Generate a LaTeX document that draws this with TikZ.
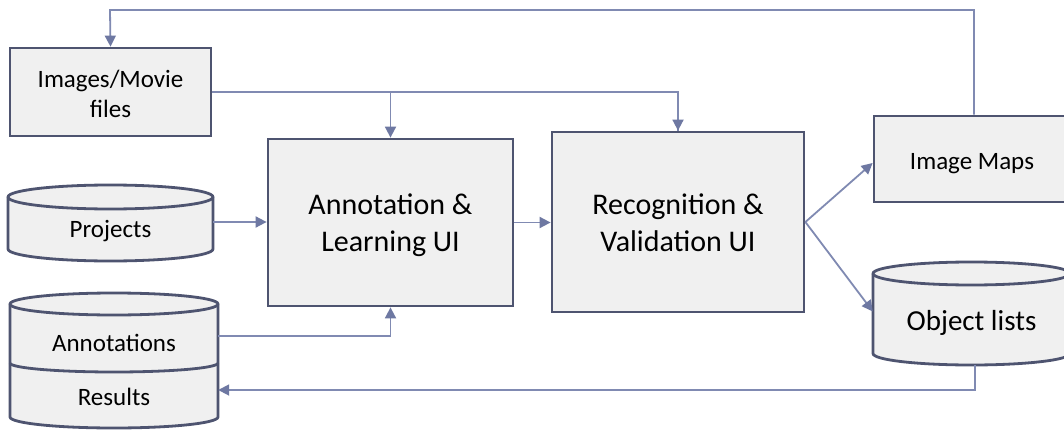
\documentclass[tikz,border=0pt]{standalone}
\usepackage{fontspec}
\setmainfont{Carlito}
\usetikzlibrary{arrows.meta,calc}
\definecolor{bordc}{RGB}{78,84,112}
\definecolor{connc}{RGB}{128,138,178}
\definecolor{tipc}{RGB}{110,120,162}
\definecolor{fillc}{RGB}{240,240,240}
\tikzset{
  boxnode/.style={draw=bordc, line width=2.8pt, fill=fillc, align=center, inner sep=0pt},
  txt/.style={align=center, inner sep=0pt, text=black},
  cylbody/.style={draw=bordc, line width=2.8pt, fill=fillc},
  conn/.style={draw=connc, line width=1.8pt},
  arr/.style={conn, -{Triangle[length=11pt,width=11pt,color=tipc]}},
  smallfont/.style={font=\fontsize{25}{30}\selectfont},
  bigfont/.style={font=\fontsize{30}{37}\selectfont},
}
\begin{document}
\begin{tikzpicture}[x=1pt,y=1pt]
\clip (0,0) rectangle (1064,429);
\fill[white] (0,0) rectangle (1064,429);

% Images/Movie files
\node[boxnode, minimum width=201pt, minimum height=88pt] (img) at (110.5,337) {};
\node[txt, smallfont] at (110.5,335) {Images/Movie\\files};

% Projects cylinder
\draw[cylbody] (8,232) -- (8,180) arc[start angle=180,end angle=360,x radius=102.5pt,y radius=12pt]
  -- (213,232) arc[start angle=0,end angle=180,x radius=102.5pt,y radius=12pt] -- cycle;
\draw[draw=bordc, line width=2.8pt] (8,232) arc[start angle=180,end angle=360,x radius=102.5pt,y radius=12pt];
\node[txt, smallfont, minimum width=205pt, minimum height=20pt] (proj) at (110.5,198) {Projects};

% Annotations / Results cylinder
\draw[cylbody] (10,125) -- (10,12) arc[start angle=180,end angle=360,x radius=104pt,y radius=11pt]
  -- (218,125) arc[start angle=0,end angle=180,x radius=104pt,y radius=11pt] -- cycle;
\draw[draw=bordc, line width=2.8pt] (10,125) arc[start angle=180,end angle=360,x radius=104pt,y radius=11pt];
\draw[draw=bordc, line width=2.8pt] (10,66) arc[start angle=180,end angle=360,x radius=104pt,y radius=9pt];
\node[txt, smallfont, minimum width=208pt, minimum height=20pt] (annot) at (114,86) {Annotations};
\node[txt, smallfont, minimum width=208pt, minimum height=20pt] (res) at (114,32) {Results};

% Main boxes
\node[boxnode, minimum width=245pt, minimum height=167pt] (ann) at (390.5,206.5) {};
\node[txt, bigfont] at (390.5,203.5) {Annotation \&\\Learning UI};
\node[boxnode, minimum width=252pt, minimum height=180pt] (rec) at (678,207) {};
\node[txt, bigfont] at (678,206) {Recognition \&\\Validation UI};

% Image Maps
\node[boxnode, minimum width=196pt, minimum height=86pt] (maps) at (972,270) {};
\node[txt, smallfont] at (972,265) {Image Maps};

% Object lists cylinder
\draw[cylbody] (873,155.5) -- (873,75.5) arc[start angle=180,end angle=360,x radius=98.5pt,y radius=11.5pt]
  -- (1070,155.5) arc[start angle=0,end angle=180,x radius=98.5pt,y radius=11.5pt] -- cycle;
\draw[draw=bordc, line width=2.8pt] (873,155.5) arc[start angle=180,end angle=360,x radius=98.5pt,y radius=11.5pt];
\node[minimum width=197pt, minimum height=103pt, inner sep=0pt] (obj) at (971.5,115.5) {};
\node[txt, font=\fontsize{29}{35}\selectfont] at (971.5,106) {Object lists};

% Connectors
\draw[conn] (img.east) -| (rec.north);
\draw[arr] (rec.north |- img.east) -- (rec.north);
\draw[arr] (ann.north |- img.east) -- (ann.north);
\draw[arr] ([yshift=9pt]proj.east) -- ([yshift=9pt]proj.east -| ann.west);
\draw[arr] ([yshift=7pt]annot.east) -| (ann.south);
\draw[arr] (ann.east) -- (ann.east -| rec.west);
\draw[arr] (rec.east) -- ([yshift=-4pt]maps.west);
\draw[arr] (rec.east) -- ([yshift=2pt]obj.west);
\draw[arr] ([xshift=3.5pt]obj.south) |- ([yshift=7pt]res.east);
\draw[arr] ([xshift=2pt]maps.north) |- (110,419) -- (img.north);
\end{tikzpicture}
\end{document}
